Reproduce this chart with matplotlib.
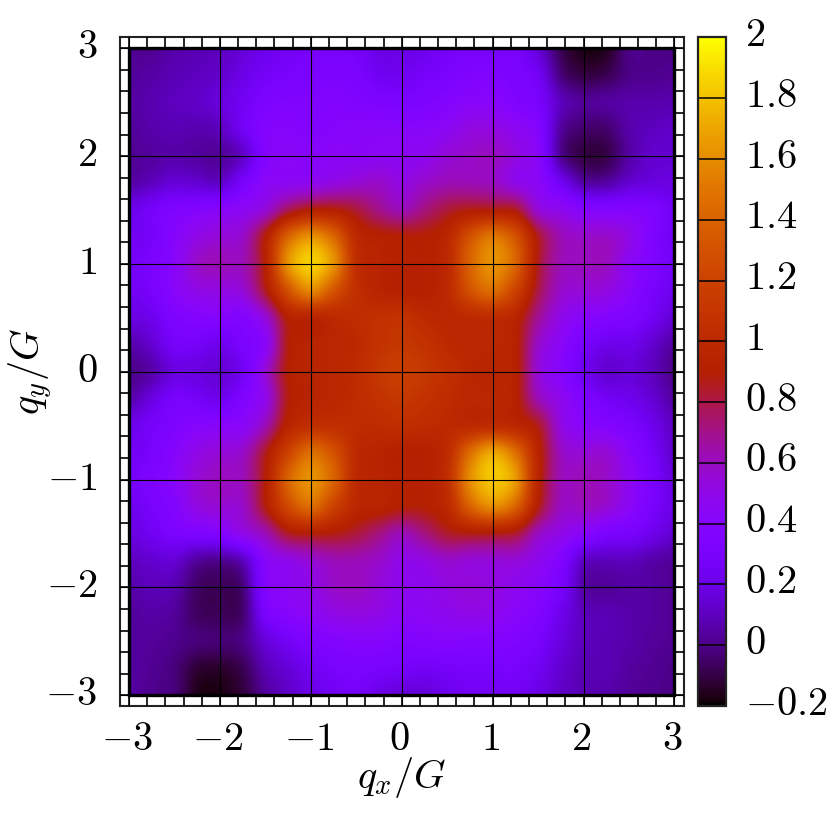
import numpy as np
import matplotlib
matplotlib.use("Agg")
import matplotlib.pyplot as plt
from matplotlib.colors import ListedColormap
from matplotlib.patches import Rectangle
from matplotlib.ticker import MultipleLocator
from matplotlib.transforms import ScaledTranslation

plt.rcParams['mathtext.fontset'] = 'cm'
plt.rcParams['font.family'] = 'DejaVu Sans'

step = 0.25   # spacing of the values, x and y from -3 to 3
z_p300 = [.02,.02,.06,.08,.10,.16,.22,.26,.30,.30,.28,.20,.20,.22,.28,.30,.30,.30,.15,-.08,-.17,-.15,.00,.00,.00]
z_p275 = [.03,.05,.08,.10,.13,.20,.27,.30,.32,.34,.32,.24,.24,.28,.32,.36,.36,.32,.25,-.02,-.10,-.08,.00,.01,.02]
z_p250 = [.04,.07,.10,.12,.17,.25,.33,.36,.36,.38,.36,.34,.32,.34,.38,.42,.42,.36,.30,.10,.03,.04,.06,.06,.07]
z_p225 = [.03,.06,.08,.07,.10,.25,.38,.40,.38,.40,.42,.42,.42,.42,.46,.52,.52,.46,.38,.04,-.04,-.04,.06,.10,.12]
z_p200 = [.02,.04,.06,.04,.03,.12,.38,.44,.42,.45,.44,.46,.46,.48,.55,.58,.60,.52,.42,.02,-.10,-.09,.05,.13,.14]
z_p175 = [.05,.10,.16,.14,.12,.30,.44,.46,.48,.52,.56,.58,.52,.58,.62,.62,.60,.50,.44,.25,.06,.05,.14,.18,.18]
z_p150 = [.20,.28,.35,.38,.42,.46,.55,.78,.90,.90,.82,.70,.62,.72,.82,.88,.88,.85,.55,.48,.40,.38,.38,.34,.24]
z_p125 = [.24,.28,.40,.50,.55,.58,.90,1.40,1.62,1.42,1.00,.92,.90,.90,.98,1.30,1.50,1.30,.85,.62,.58,.58,.50,.35,.24]
z_p100 = [.25,.32,.42,.58,.62,.62,.92,1.62,1.85,1.62,1.05,.95,.92,.92,1.00,1.40,1.62,1.40,.85,.62,.60,.60,.45,.35,.25]
z_p075 = [.24,.30,.42,.50,.52,.55,.85,1.30,1.58,1.32,1.05,.95,.92,.92,1.00,1.30,1.45,1.20,.80,.58,.55,.52,.42,.30,.22]
z_p050 = [.18,.22,.34,.38,.40,.38,.55,.92,.95,1.00,1.03,1.06,1.08,1.00,.98,1.00,1.02,.95,.68,.50,.42,.38,.34,.25,.14]
z_p025 = [.06,.14,.28,.27,.22,.32,.44,.88,.95,.98,1.00,1.08,1.12,1.08,1.00,.98,.98,.92,.58,.44,.30,.22,.22,.14,.04]
z_000 = [.00,.06,.18,.18,.15,.25,.55,.90,.95,.98,1.02,1.12,1.17,1.12,1.05,.98,.95,.92,.55,.40,.24,.14,.16,.10,.00]
z_m025 = [.06,.18,.30,.27,.22,.36,.50,.88,.95,.98,1.02,1.08,1.12,1.08,1.02,.98,.98,.92,.62,.48,.35,.26,.22,.15,.04]
z_m050 = [.20,.28,.34,.40,.42,.44,.62,.95,1.05,1.05,1.02,1.02,1.04,1.02,1.00,1.00,1.02,.98,.85,.52,.42,.38,.32,.22,.10]
z_m075 = [.24,.30,.40,.50,.55,.58,.85,1.20,1.45,1.30,1.00,.95,.92,.92,1.02,1.45,1.70,1.45,.95,.60,.55,.55,.42,.28,.12]
z_m100 = [.27,.34,.42,.55,.60,.62,.90,1.40,1.62,1.40,1.00,.95,.92,.92,1.05,1.60,1.82,1.65,.95,.62,.62,.58,.46,.32,.16]
z_m125 = [.22,.30,.38,.52,.56,.58,.88,1.25,1.45,1.20,.98,.95,.90,.90,1.00,1.40,1.60,1.40,.88,.60,.60,.56,.44,.30,.20]
z_m150 = [.18,.24,.32,.34,.38,.50,.62,.85,.90,.88,.82,.72,.62,.72,.84,.88,.88,.84,.60,.50,.42,.32,.30,.22,.14]
z_m175 = [.10,.14,.15,.04,.02,.10,.42,.50,.56,.62,.62,.58,.50,.52,.58,.55,.55,.55,.48,.36,.12,.10,.10,.06,.03]
z_m200 = [.06,.09,.07,-.05,-.07,-.02,.38,.46,.50,.58,.60,.54,.48,.48,.52,.54,.52,.48,.42,.30,.06,.03,.05,.04,.02]
z_m225 = [.03,.05,.03,-.06,-.07,-.04,.30,.40,.45,.50,.52,.50,.44,.45,.48,.50,.48,.42,.36,.22,.10,.08,.06,.04,.02]
z_m250 = [.04,.03,.01,-.02,-.03,.00,.16,.26,.34,.38,.40,.40,.36,.38,.40,.38,.38,.36,.30,.18,.10,.08,.06,.03,.02]
z_m275 = [.04,.02,-.02,-.12,-.13,-.08,.08,.16,.24,.30,.32,.30,.28,.26,.28,.30,.30,.30,.24,.14,.08,.08,.04,.02,.00]
z_m300 = [.05,.01,-.02,-.16,-.17,-.11,.03,.12,.20,.25,.28,.20,.16,.16,.22,.26,.26,.26,.20,.12,.08,.06,.03,.01,.00]
rows = [z_p300, z_p275, z_p250, z_p225, z_p200, z_p175, z_p150, z_p125, z_p100,
        z_p075, z_p050, z_p025, z_000, z_m025, z_m050, z_m075, z_m100, z_m125,
        z_m150, z_m175, z_m200, z_m225, z_m250, z_m275, z_m300]
major_ticks = [-3, -2, -1, 0, 1, 2, 3]
cbar_ticks = [-.2, 0, .2, .4, .6, .8, 1, 1.2, 1.4, 1.6, 1.8, 2]
cbar_labels = ['$-0.2$', '$0$', '$0.2$', '$0.4$', '$0.6$', '$0.8$', '$1$',
               '$1.2$', '$1.4$', '$1.6$', '$1.8$', '$2$']

# gnuplot default pm3d palette (7,5,15)
t = np.linspace(0, 1, 256)
cmap = ListedColormap(np.c_[np.sqrt(t), t**3, np.clip(np.sin(2*np.pi*t), 0, 1)])

W = 830.0
FS = 29
fig = plt.figure(figsize=(8.3, 8.3), dpi=100)
def box(l, t_, r, b):
    return [l/W, 1-b/W, (r-l)/W, (b-t_)/W]

ax = fig.add_axes(box(119.5, 37.5, 684, 706))
half = step / 2
im = ax.imshow(np.array(rows), cmap=cmap, vmin=-.2, vmax=2,
               extent=[-3-half, 3+half, -3-half, 3+half],
               aspect='auto', interpolation='catrom', zorder=1)
ax.set_xlim(-3.105, 3.105)
ax.set_ylim(-3.1, 3.1)
clip = Rectangle((-3, -3), 6, 6, transform=ax.transData)
im.set_clip_path(clip)
ax.set_xticks(major_ticks)
ax.set_yticks(major_ticks)
ax.set_xticklabels([f'${v}$' for v in major_ticks], fontsize=FS)
ax.set_yticklabels([f'${v}$' for v in major_ticks], fontsize=FS)
ax.xaxis.set_minor_locator(MultipleLocator(.2))
ax.yaxis.set_minor_locator(MultipleLocator(.2))
ax.tick_params(axis='x', which='both', direction='in', top=True, bottom=True,
               length=7.2, width=1.2, color='black', pad=9)
ax.tick_params(axis='y', which='both', direction='in', left=True, right=True,
               length=6.8, width=1.2, color='black', pad=16)
ax.grid(True, which='major', color='black', lw=.8, zorder=2)
ax.set_axisbelow(False)
ax.add_patch(Rectangle((-3, -3), 6, 6, fill=False, ec='black', lw=2.4, zorder=3))
for s in ax.spines.values():
    s.set_linewidth(1.5)
    s.set_color('#222222')
ax.set_xlabel('$q_x/G$', fontsize=FS, labelpad=0)
ax.set_ylabel('$q_y/G$', fontsize=FS, labelpad=0)
ax.xaxis.set_label_coords(.5, -.074)
ax.yaxis.set_label_coords(-.115, .5)

up = ScaledTranslation(0, 4/72, fig.dpi_scale_trans)
for lab in ax.get_yticklabels():
    lab.set_transform(lab.get_transform() + up)
left = ScaledTranslation(-2/72*.72, 0, fig.dpi_scale_trans)
for lab in ax.get_xticklabels():
    lab.set_transform(lab.get_transform() + left)

cax = fig.add_axes(box(698, 37.5, 726, 706))
cb = fig.colorbar(im, cax=cax)
cb.set_ticks(cbar_ticks)
cb.set_ticklabels(cbar_labels, fontsize=FS)
cb.ax.tick_params(which='both', length=0, pad=14)
cb.ax.minorticks_off()
cb.outline.set_linewidth(1.6)
cb.outline.set_edgecolor('#222222')
cax.hlines(cbar_ticks, 0, 1, transform=cax.get_yaxis_transform(), color='black', lw=1.1)
up2 = ScaledTranslation(0, 5/72, fig.dpi_scale_trans)
for lab in cax.get_yticklabels():
    lab.set_transform(lab.get_transform() + up2)

fig.savefig('out.png', dpi=100)
